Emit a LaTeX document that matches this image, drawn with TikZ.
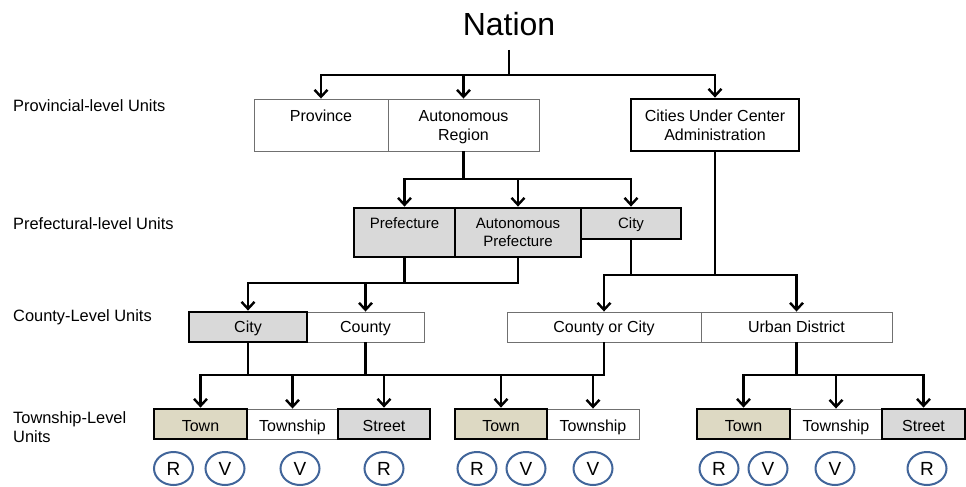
\documentclass[tikz,border=0pt]{standalone}
\usepackage{fontspec}
\setmainfont{Liberation Sans}
\usetikzlibrary{arrows.meta,fit,shapes.geometric}

\definecolor{boxgray}{HTML}{D9D9D9}
\definecolor{townfill}{HTML}{DDD9C3}
\definecolor{ringblue}{HTML}{41659A}
\definecolor{thinedge}{HTML}{707070}

\begin{document}
\begin{tikzpicture}[x=1pt,y=-1pt,
  wire/.style={line width=2.6pt},
  arr/.style={line width=2.6pt,-{Straight Barb[length=7pt,width=13pt,line width=2.4pt]}},
  thinbox/.style={draw=thinedge,line width=0.9pt,fill=white,inner sep=0pt},
  thickbox/.style={draw=black,line width=2.8pt,inner sep=0pt},
  graybox/.style={thickbox,fill=boxgray},
  townbox/.style={thickbox,fill=townfill},
  lbl/.style={font=\fontsize{16}{18.5}\selectfont,inner sep=0pt,anchor=base,align=center},
  plbl/.style={font=\fontsize{15}{18}\selectfont,inner sep=0pt,anchor=base,align=center},
  side/.style={font=\fontsize{16.4}{19}\selectfont,inner sep=0pt,anchor=base west,align=left},
  ring/.style={ellipse,draw=ringblue,line width=2pt,minimum width=39pt,minimum height=33pt,inner sep=0pt,font=\fontsize{19}{19}\selectfont}
]
\fill[white] (0,0) rectangle (966,487);
\useasboundingbox (0,0) rectangle (966,487);

% level rows used by the connectors
\coordinate (y75) at (0,75);
\coordinate (y179) at (0,179);
\coordinate (y275) at (0,275);
\coordinate (y283) at (0,283);
\coordinate (y375) at (0,375);

% title
\node[font=\fontsize{32}{32}\selectfont,inner sep=0pt,anchor=base] (nation) at (509,36) {Nation};

% side labels (a two-line node sits on the baseline of its last line)
\node[side] (lv1) at (13,111) {Provincial-level Units};
\node[side] (lv2) at (13,229) {Prefectural-level Units};
\node[side] (lv3) at (13,321) {County-Level Units};
\node[side] (lv4) at (13,442) {Township-Level\\Units};

% provincial level
\node[thinbox,fit={(254,99)(388,151)}] (prov) {};
\node[thinbox,fit={(388,99)(539,151)}] (ar) {};
\node[thickbox,fill=white,fit={(631,99)(799,151)}] (cuca) {};
\node[lbl] (provT) at (prov.center |- 0,121.5) {Province};
\node[lbl] (arT) at (ar.center |- 0,140) {Autonomous\\Region};
\node[lbl] (cucaT) at (cuca.center |- 0,140) {Cities Under Center\\Administration};

% prefectural level
\node[graybox,fit={(581,208)(681,239)}] (city1) {};
\node[graybox,fit={(354,208)(455,257)}] (pref) {};
\node[graybox,fit={(455,208)(581,257)}] (apref) {};
\node[plbl] (prefT) at (pref.center |- 0,228) {Prefecture};
\node[plbl] (aprefT) at (apref.center |- 0,246) {Autonomous\\Prefecture};
\node[plbl] (city1T) at (city1.center |- 0,228) {City};

% county level
\node[thinbox,fit={(307,312)(424,342)}] (county) {};
\node[thinbox,fit={(507,312)(701,342)}] (cc) {};
\node[thinbox,fit={(701,312)(892,342)}] (ud) {};
\node[graybox,fit={(189,312)(307,342)}] (city2) {};
\node[lbl] (city2T) at (city2.center |- 0,332) {City};
\node[lbl] (countyT) at (county.center |- 0,332) {County};
\node[lbl] (ccT) at (cc.center |- 0,332) {County or City};
\node[lbl] (udT) at (ud.center |- 0,332) {Urban District};

% township level
\node[thinbox,fit={(247,409)(338,439)}] (tsp1) {};
\node[thinbox,fit={(547,409)(639,439)}] (tsp2) {};
\node[thinbox,fit={(790,409)(882,439)}] (tsp3) {};
\node[townbox,fit={(154,409)(247,439)}] (town1) {};
\node[graybox,fit={(338,409)(430,439)}] (street1) {};
\node[townbox,fit={(455,409)(547,439)}] (town2) {};
\node[townbox,fit={(697,409)(790,439)}] (town3) {};
\node[graybox,fit={(882,409)(965,439)}] (street3) {};
\foreach \b/\t in {town1/Town,tsp1/Township,street1/Street,town2/Town,tsp2/Township,town3/Town,tsp3/Township,street3/Street}
  \node[lbl] (\b T) at (\b.center |- 0,431) {\t};

% residents' and villagers' committees
\foreach \n/\x/\t in {c1/173.5/R,c2/225/V,c3/300/V,c4/384/R,c5/477/R,c6/526/V,c7/593/V,c8/719/R,c9/768/V,c10/835/V,c11/927/R}
  \node[ring] (\n) at (\x,468.5) {\t};

% nation to provincial level
\coordinate (n0) at (509,50);
\draw[wire] (n0) -- (n0 |- y75);
\draw[arr] (n0 |- y75) -| (prov.north);
\draw[arr] (n0 |- y75) -| (cuca.north);
\draw[arr] (ar.north |- y75) -- (ar.north);

% provincial to prefectural level
\draw[wire] (ar.south) -- (ar.south |- y179);
\draw[arr] (ar.south |- y179) -| (pref.north);
\draw[arr] (ar.south |- y179) -| (city1.north);
\draw[arr] (apref.north |- y179) -- (apref.north);

% prefecture / autonomous prefecture to county level
\draw[wire] (pref.south) -- (pref.south |- y283);
\draw[arr] (apref.south) |- (city2.north |- y283) -- (city2.north);
\draw[arr] (county.north |- y283) -- (county.north);

% prefectural city and municipalities to county level
\draw[wire] (city1.south) -- (city1.south |- y275);
\draw[arr] (cuca.south) -- (cuca.south |- y275) -| (cc.north);
\draw[arr] (cuca.south |- y275) -| (ud.north);

% county level to township level
\draw[wire] (city2.south) -- (city2.south |- y375);
\draw[wire] (county.south) -- (county.south |- y375);
\draw[arr] (cc.south) |- (town1.north |- y375) -- (town1.north);
\draw[arr] (tsp1.north |- y375) -- (tsp1.north);
\draw[arr] (street1.north |- y375) -- (street1.north);
\draw[arr] (town2.north |- y375) -- (town2.north);
\draw[arr] (tsp2.north |- y375) -- (tsp2.north);

% urban district to township level
\draw[wire] (ud.south) -- (ud.south |- y375);
\draw[arr] (ud.south |- y375) -| (town3.north);
\draw[arr] (ud.south |- y375) -| (street3.north);
\draw[arr] (tsp3.north |- y375) -- (tsp3.north);
\end{tikzpicture}
\end{document}
